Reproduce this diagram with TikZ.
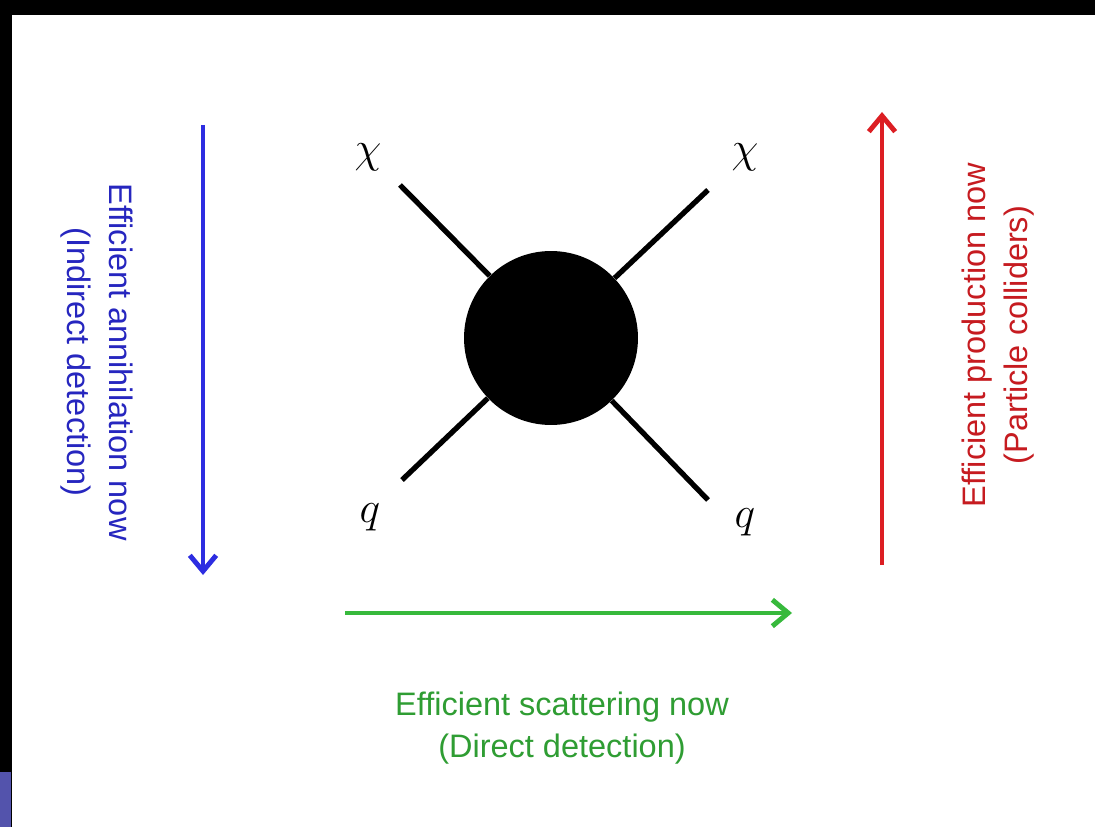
\documentclass[tikz,border=0pt]{standalone}
\usepackage{fontspec}
\setmainfont{Liberation Sans}
\usetikzlibrary{arrows.meta}

\definecolor{annblue}{RGB}{45,45,225}
\definecolor{prodred}{RGB}{220,30,35}
\definecolor{scatgreen}{RGB}{55,185,60}

\begin{document}
\begin{tikzpicture}[
  x=0.02cm, y=-0.02cm,
  leg/.style={line width=3pt, black},
  blob/.style={circle, fill=black, minimum size=3.48cm, inner sep=0pt},
  part/.style={font=\fontsize{26}{28}\selectfont, inner sep=0pt},
  flow/.style={line width=2.8pt, -{Straight Barb[length=9pt, width=15pt, line width=2.8pt]}},
  captxt/.style={font=\fontsize{18.5}{24}\selectfont, align=center, inner sep=0pt},
]
  % slide frame
  \fill[black] (0,0) rectangle (1095,827);
  \fill[white] (12,15) rectangle (1095,827);
  \fill[blue!35!gray] (0,772) rectangle (11,827);
  \useasboundingbox (0,0) rectangle (1095,827);

  % four-point vertex
  \node[blob] (v) at (551,338) {};
  \coordinate (chil) at (400,185);
  \coordinate (chir) at (708,190);
  \coordinate (ql) at (402,480);
  \coordinate (qr) at (708,500);
  \draw[leg] (chil) -- (v);
  \draw[leg] (chir) -- (v);
  \draw[leg] (ql) -- (v);
  \draw[leg] (qr) -- (v);

  \node[part] (chiltxt) at (368,157) {$\chi$};
  \node[part] (chirtxt) at (745,157) {$\chi$};
  \node[part] (qltxt) at (370,517) {$q$};
  \node[part] (qrtxt) at (745,522) {$q$};

  % annihilation (downwards)
  \coordinate (ann0) at (203,125);
  \coordinate (ann1) at (203,575);
  \draw[flow, annblue] (ann0) -- (ann1);
  \node[captxt, text=annblue!85!black, rotate=-90] (anntxt) at (97,362)
    {Efficient annihilation now\\(Indirect detection)};

  % production (upwards)
  \coordinate (prod0) at (882,565);
  \coordinate (prod1) at (882,112);
  \draw[flow, prodred] (prod0) -- (prod1);
  \node[captxt, text=prodred!90!black, rotate=90] (prodtxt) at (998,335)
    {Efficient production now\\(Particle colliders)};

  % scattering (rightwards)
  \coordinate (scat0) at (345,613);
  \coordinate (scat1) at (792,613);
  \draw[flow, scatgreen] (scat0) -- (scat1);
  \node[captxt, text=scatgreen!85!black] (scattxt) at (562,728)
    {Efficient scattering now\\(Direct detection)};
\end{tikzpicture}
\end{document}
